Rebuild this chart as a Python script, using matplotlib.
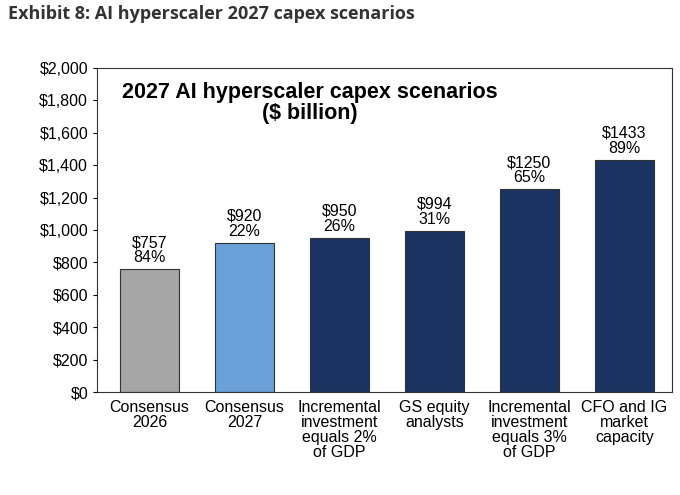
import matplotlib.pyplot as plt
import numpy as np

categories = ["Consensus\n2026", "Consensus\n2027", "Incremental\ninvestment\nequals 2%\nof GDP",
              "GS equity\nanalysts", "Incremental\ninvestment\nequals 3%\nof GDP", "CFO and IG\nmarket\ncapacity"]
values = [757, 920, 950, 994, 1250, 1433]
growth = ["84%", "22%", "26%", "31%", "65%", "89%"]
colors = ["#a5a5a5", "#6a9fd8", "#1b3461", "#1b3461", "#1b3461", "#1b3461"]

fig = plt.figure(figsize=(6.8, 4.95), dpi=100)
ax = fig.add_axes([0.143, 0.208, 0.845, 0.655])
x = np.arange(len(values))
ax.bar(x, values, width=0.62, color=colors, edgecolor="#333333", linewidth=0.8)
for xi, v, g in zip(x, values, growth):
    ax.text(xi, v + 25, f"${v}\n{g}", ha="center", va="bottom", fontsize=11.5,
            family="Liberation Sans", linespacing=1.0)
ax.set_xlim(-0.55, 5.5)
ax.set_ylim(0, 2000)
ax.set_yticks(range(0, 2001, 200))
ax.set_yticklabels([f"${t:,}" for t in range(0, 2001, 200)], family="Liberation Sans", fontsize=11.5)
ax.set_xticks(x)
ax.set_xticklabels(categories, family="Liberation Sans", fontsize=11.5, linespacing=1.0)
ax.tick_params(axis="x", length=0, pad=6)
ax.tick_params(axis="y", length=3)
for s in ax.spines.values():
    s.set_color("#333333")
ax.text(0.37, 0.955, "2027 AI hyperscaler capex scenarios\n($ billion)", transform=ax.transAxes,
        ha="center", va="top", fontsize=15.5, fontweight="bold", family="Liberation Sans", linespacing=1.0)
fig.text(0.012, 0.972, "Exhibit 8: AI hyperscaler 2027 capex scenarios", fontsize=13,
         fontweight="bold", family="Open Sans", color="#333333", va="center")
fig.savefig("out.png", dpi=100)
